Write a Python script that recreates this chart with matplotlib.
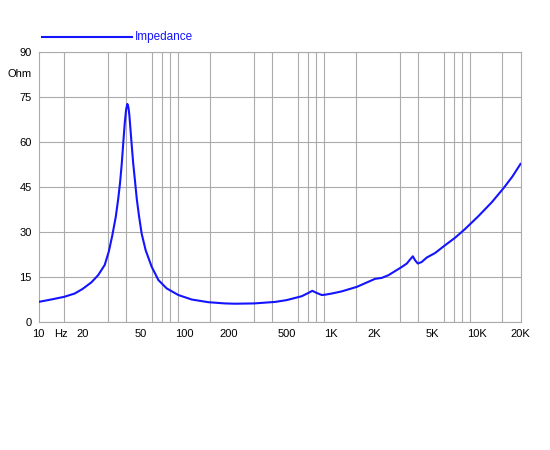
import matplotlib
matplotlib.use("Agg")
import matplotlib.pyplot as plt
from matplotlib.lines import Line2D
from matplotlib.ticker import NullFormatter

plt.rcParams["font.family"] = ["Liberation Sans", "DejaVu Sans"]

# impedance curve (Hz, Ohm)
freq = [10, 12.2, 15, 17.7, 20, 23.0, 25.6, 28.4, 30.3, 32.0, 33.8, 35.1,
        36.2, 37.2, 38.1, 39.0, 39.8, 40.6, 41.3, 41.9, 42.6, 43.4, 44.5,
        45.8, 47.1, 48.8, 50.9, 54.2, 59.6, 66.2, 75.5, 90.7, 112, 146, 189,
        222, 300, 417, 500, 635, 705, 750, 803, 871, 916, 1020, 1190, 1510,
        2020, 2240, 2490, 3040, 3330, 3500, 3660, 3790, 3960, 4210, 4560,
        5200, 6090, 7130, 8340, 10300, 12700, 15300, 17600, 20000]
impedance = [6.7, 7.5, 8.4, 9.5, 11.0, 13.2, 15.6, 19.0, 23.5, 28.8, 35.0, 40.8,
             46.5, 53.0, 60.0, 66.5, 70.8, 72.7, 71.5, 69.0, 64.5, 59.5, 53.0,
             47.0, 41.0, 35.3, 29.4, 23.9, 18.4, 14.0, 11.2, 9.0, 7.5, 6.6, 6.2,
             6.1, 6.2, 6.7, 7.3, 8.6, 9.7, 10.4, 9.7, 9.0, 9.1, 9.5, 10.2, 11.7,
             14.4, 14.7, 15.6, 18.2, 19.5, 20.8, 21.9, 20.6, 19.5, 20.0, 21.5,
             23.0, 25.6, 28.1, 31.0, 35.3, 39.9, 44.6, 48.5, 52.7]

x_ticks = [10, 14.3, 20, 50, 100, 200, 500, 1000, 2000, 5000, 10000, 20000]
x_labels = ["10", "Hz", "20", "50", "100", "200", "500", "1K", "2K", "5K", "10K", "20K"]
x_grid = [10, 15, 20, 30, 40, 50, 60, 70, 80, 90,
          100, 150, 200, 300, 400, 500, 600, 700, 800, 900,
          1000, 1500, 2000, 3000, 4000, 5000, 6000, 7000, 8000, 9000,
          10000, 15000, 20000]
y_ticks = [0, 15, 30, 45, 60, 75, 90]

grid_col = "#ababab"
blue = "#1414ff"

fig = plt.figure(figsize=(5.5, 4.5), dpi=100)
ax = fig.add_axes([0.07, 0.2844, 0.8764, 0.6])

ax.plot(freq, impedance, color=blue, lw=1.5, zorder=3)

ax.set_xscale("log")
ax.set_xlim(10, 20000)
ax.set_ylim(0, 90)

ax.set_xticks(x_ticks)
ax.set_xticklabels(x_labels)
ax.set_xticks(x_grid, minor=True)
ax.xaxis.set_minor_formatter(NullFormatter())
ax.set_yticks(y_ticks)
ax.tick_params(axis="both", which="both", length=0, labelsize=8, colors="black")
ax.tick_params(axis="x", pad=5)
ax.tick_params(axis="y", pad=5)

ax.grid(False)
ax.xaxis.grid(True, which="minor", color=grid_col, lw=0.8)
ax.yaxis.grid(True, which="major", color=grid_col, lw=0.8)
for s in ax.spines.values():
    s.set_color(grid_col)
    s.set_linewidth(0.8)

ax.annotate("Ohm", xy=(0, 82.7), xycoords=("axes fraction", "data"),
            xytext=(-5, 0), textcoords="offset points",
            ha="right", va="center", fontsize=8)

# legend
fig.add_artist(Line2D([42 / 550, 132 / 550], [1 - 37 / 450, 1 - 37 / 450],
                      color=blue, lw=1.5, transform=fig.transFigure))
fig.text(135 / 550, 1 - 37 / 450, "Impedance", color=blue, fontsize=8.5,
         ha="left", va="center")

fig.savefig("out.png", dpi=100)
